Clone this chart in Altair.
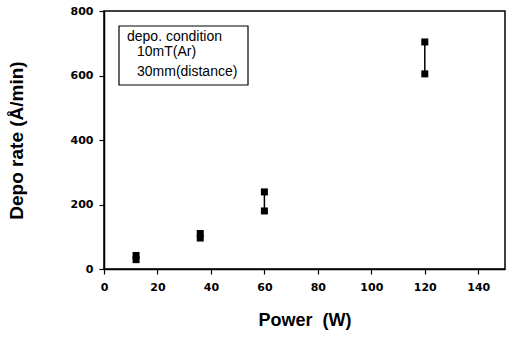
import altair as alt
import pandas as pd

# Data
power = [12, 12, 36, 36, 60, 60, 120, 120]
rate = [42, 29, 110, 96, 239, 180, 704, 605]

legend_lines = ["depo. condition", "10mT(Ar)", "30mm(distance)"]
legend_x = [23, 33, 33]
legend_y = [26, 41, 61]

df = pd.DataFrame({"power": power, "rate": rate})
df_leg = pd.DataFrame({"t": legend_lines, "lx": legend_x, "ly": legend_y})
df_box = pd.DataFrame({"k": [0]})

lab_font = "DejaVu Sans"
title_font = "Liberation Sans"

x_scale = alt.Scale(domain=[0, 150], nice=False, zero=False)
y_scale = alt.Scale(domain=[0, 800], nice=False)

x_axis = alt.Axis(
    values=list(range(0, 151, 10)),
    labelExpr="(datum.value % 20 == 0 && datum.value <= 140) ? datum.label : ''",
    grid=False, tickSize=5, tickColor="black", tickWidth=1.2,
    domainColor="black", domainWidth=1.5,
    labelFont=lab_font, labelFontWeight="bold", labelFontSize=11, labelColor="black",
    labelPadding=7, labelFlush=False,
    title="Power\u00a0 (W)", titleFont=title_font, titleFontSize=18, titleFontWeight="bold",
    titleColor="black", titlePadding=19,
)
y_axis = alt.Axis(
    values=list(range(0, 801, 100)),
    labelExpr="(datum.value % 200 == 0) ? datum.label : ''",
    grid=False, tickSize=5, tickColor="black", tickWidth=1.2,
    domainColor="black", domainWidth=1.5,
    labelFont=lab_font, labelFontWeight="bold", labelFontSize=11, labelColor="black",
    labelPadding=6, labelFlush=False,
    title="Depo rate (Å/min)", titleFont=title_font, titleFontSize=19, titleFontWeight="bold",
    titleColor="black", titlePadding=44,
)

base = alt.Chart(df)

rules = base.mark_rule(color="black", strokeWidth=1.5).encode(
    x=alt.X("power:Q", scale=x_scale, axis=x_axis),
    y=alt.Y("min(rate):Q", scale=y_scale, axis=y_axis),
    y2="max(rate):Q",
)

points = base.mark_square(size=49, color="black", opacity=1, filled=True).encode(
    x=alt.X("power:Q", scale=x_scale),
    y=alt.Y("rate:Q", scale=y_scale),
)

box = alt.Chart(df_box).mark_rect(fill="white", stroke="black", strokeWidth=1.2).encode(
    x=alt.value(15), x2=alt.value(144), y=alt.value(15), y2=alt.value(74)
)

texts = alt.Chart(df_leg).mark_text(
    align="left", baseline="middle", font=title_font, fontSize=14, color="black"
).encode(
    x=alt.X("lx:Q", scale=None),
    y=alt.Y("ly:Q", scale=None),
    text="t:N",
)

chart = alt.layer(rules, points, box, texts).properties(
    width=401, height=258,
    autosize=alt.AutoSizeParams(type="none"),
    padding={"left": 104, "top": 11, "right": 12, "bottom": 70},
    background="white",
).configure_view(stroke="black", strokeWidth=1.5)

chart.save("out.html", embed_options={"renderer": "svg", "actions": False})
